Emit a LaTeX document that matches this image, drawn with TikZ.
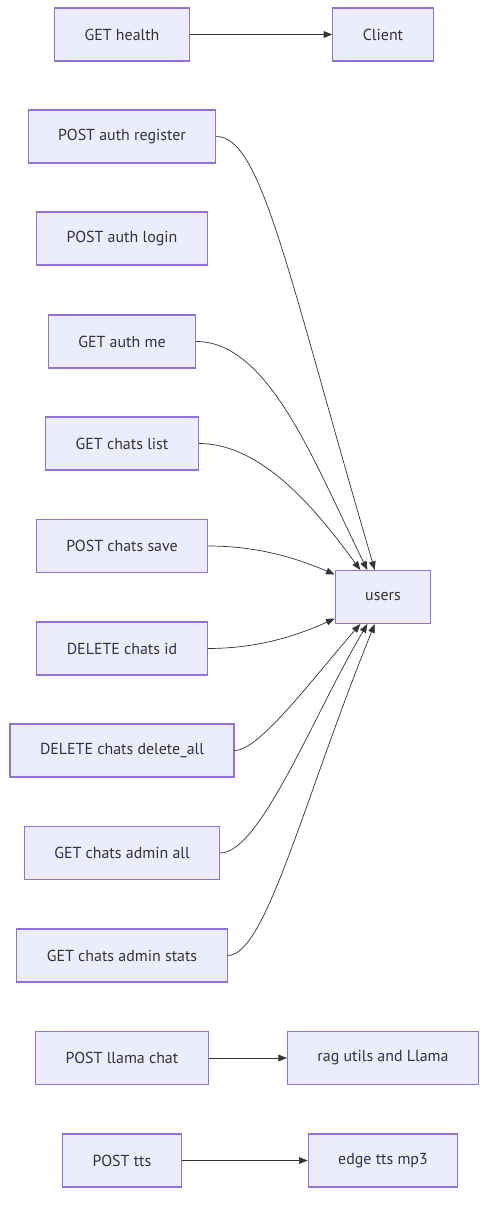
\documentclass[tikz,border=0pt]{standalone}
\usepackage{fontspec}
\setmainfont{PT Sans}
\usepackage{tikz}
\usetikzlibrary{arrows.meta}
\definecolor{BoxFill}{RGB}{236, 236, 255}
\definecolor{BoxLine}{RGB}{147, 112, 219}
\definecolor{Ink}{RGB}{51, 51, 51}

\begin{document}
\begin{tikzpicture}[x=0.03cm,y=-0.03cm,
    box/.style={draw=BoxLine,fill=BoxFill,line width=0.9pt,text=Ink,
        minimum height=1.59cm,inner xsep=0.9cm,font=\fontsize{13.6pt}{16pt}\selectfont},
    arr/.style={draw=Ink,line width=0.6pt,-{Triangle[length=0.26cm,width=0.2cm]}}]
    \useasboundingbox (0,0) rectangle (496,1214);

    % endpoints
    \node[box] (health) at (122,34.5) {GET health};
    \node[box] (client) at (383,34.5) {Client};
    \node[box] (register) at (122,136.5) {POST auth register};
    \node[box] (login) at (122,238.5) {POST auth login};
    \node[box] (me) at (122,341.5) {GET auth me};
    \node[box] (list) at (122,443.5) {GET chats list};
    \node[box] (save) at (122,546) {POST chats save};
    \node[box] (chatid) at (122,648.5) {DELETE chats id};
    \node[box] (delall) at (122,750.5) {DELETE chats delete\_all};
    \node[box] (adminall) at (122,853) {GET chats admin all};
    \node[box] (adminstats) at (122,955.5) {GET chats admin stats};
    \node[box] (llama) at (122,1058) {POST llama chat};
    \node[box] (tts) at (122,1160.5) {POST tts};

    % targets
    \node[box] (users) at (383,597) {users};
    \node[box] (rag) at (383,1058) {rag utils and Llama};
    \node[box] (edge) at (383,1160.5) {edge tts mp3};

    \draw[arr] (health) -- (client);
    \draw[arr] (llama) -- (rag);
    \draw[arr] (tts) -- (edge);

    \draw[arr] (register.east) .. controls +(45,0) and +(-88,-300) .. (users.107);
    \draw[arr] (me.east) .. controls +(73,0) and +(-53,-107) .. (users.120);
    \draw[arr] (list.east) .. controls +(65,0) and +(-41,-56) .. (users.130);
    \draw[arr] (save.east) .. controls +(52,0) and +(-35,-15) .. (users.155);
    \draw[arr] (chatid.east) .. controls +(52,0) and +(-35,16) .. (users.204);
    \draw[arr] (delall.east) .. controls +(25,0) and +(-49,56) .. (users.230);
    \draw[arr] (adminall.east) .. controls +(40,0) and +(-53,89) .. (users.240);
    \draw[arr] (adminstats.east) .. controls +(38,0) and +(-72,178) .. (users.253);
\end{tikzpicture}
\end{document}
